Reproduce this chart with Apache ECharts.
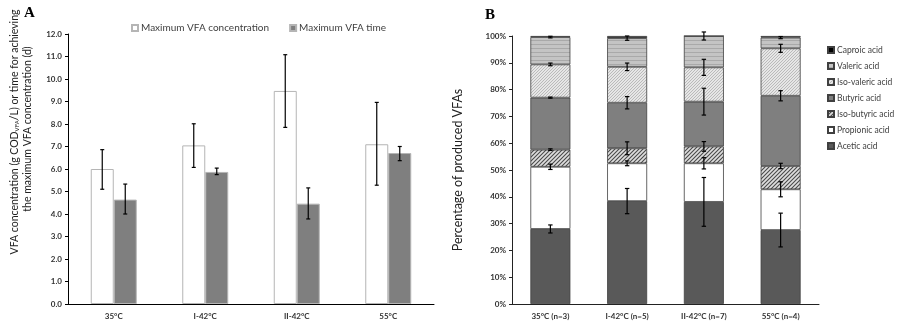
<!DOCTYPE html>
<html lang="en" style="height: 100%">
<head>
  <meta charset="utf-8">
</head>
<body style="height: 100%; margin: 0; background: #fff">
  <div id="container" style="width: 899px; height: 321px"></div>
  <script type="text/javascript" src="https://fastly.jsdelivr.net/npm/echarts@6.0.0/dist/echarts.min.js"></script>
  <script type="text/javascript">
    // ---- panel A data ----
    var tempsA = ['35°C', 'I-42°C', 'II-42°C', '55°C'];
    var concMax = [6.0, 7.05, 9.47, 7.1];
    var concLow = [5.1, 6.07, 7.85, 5.28];
    var concHigh = [6.86, 8.01, 11.08, 8.96];
    var timeMax = [4.64, 5.87, 4.46, 6.71];
    var timeLow = [4.0, 5.75, 3.78, 6.37];
    var timeHigh = [5.33, 6.04, 5.16, 7.0];
    var ticksA = [0, 12, 1];

    // ---- panel B data (% of produced VFAs) ----
    var tempsB = ['35°C (n=3)', 'I-42°C (n=5)', 'II-42°C (n=7)', '55°C (n=4)'];
    var acetic = [28.0, 38.4, 38.1, 27.6];
    var propionic = [23.2, 14.1, 14.4, 15.2];
    var isoButyric = [6.4, 5.6, 6.3, 8.7];
    var butyric = [19.4, 17.0, 16.7, 26.2];
    var isoValeric = [12.4, 13.4, 12.8, 17.7];
    var valeric = [10.2, 10.7, 11.7, 4.0];
    var caproic = [0.4, 0.8, 0.0, 0.6];
    // half error bars
    var aceticErr = [1.5, 4.7, 9.1, 6.3];
    var propionicErr = [1.0, 0.9, 2.1, 2.8];
    var isoButyricErr = [0.3, 2.4, 1.8, 1.0];
    var butyricErr = [0.2, 2.3, 5.0, 1.9];
    var isoValericErr = [0.5, 1.4, 3.0, 1.5];
    var valericErr = [0.3, 0.8, 1.5, 0.4];

    var FONT = 'Lato';

    // hatch patterns, like the excel fills
    function makePattern(size, bg, draw) {
      var c = document.createElement('canvas');
      c.width = size; c.height = size;
      var ctx = c.getContext('2d');
      ctx.fillStyle = bg;
      ctx.fillRect(0, 0, size, size);
      draw(ctx, size);
      return { image: c, repeat: 'repeat' };
    }
    function diag(color, w) {
      return function (ctx, s) {
        ctx.strokeStyle = color;
        ctx.lineWidth = w;
        ctx.beginPath();
        ctx.moveTo(-1, s + 1); ctx.lineTo(s + 1, -1);
        ctx.moveTo(-1, 1); ctx.lineTo(1, -1);
        ctx.moveTo(s - 1, s + 1); ctx.lineTo(s + 1, s - 1);
        ctx.stroke();
      };
    }
    var isoButyricFill = makePattern(4, '#dedede', diag('#4a4a4a', 1.1));
    var isoValericFill = makePattern(3, '#e6e6e6', diag('#b4b4b4', 0.9));
    var valericFill = makePattern(4, '#c4c4c4', function (ctx, s) {
      ctx.fillStyle = '#a9a9a9';
      ctx.fillRect(0, 0, s, 1);
    });

    function errRender(offset, cap) {
      return function (params, api) {
        var x = api.value(0);
        var lo = api.coord([x, api.value(1)]);
        var hi = api.coord([x, api.value(2)]);
        var cx = lo[0] + offset;
        var st = { stroke: '#000', lineWidth: 1.2 };
        return {
          type: 'group',
          children: [
            { type: 'line', shape: { x1: cx, y1: lo[1], x2: cx, y2: hi[1] }, style: st },
            { type: 'line', shape: { x1: cx - cap, y1: lo[1], x2: cx + cap, y2: lo[1] }, style: st },
            { type: 'line', shape: { x1: cx - cap, y1: hi[1], x2: cx + cap, y2: hi[1] }, style: st }
          ]
        };
      };
    }
    function rangeData(lo, hi) {
      return lo.map(function (v, i) { return [i, v, hi[i]]; });
    }

    // stacked series for B, bottom to top
    var stackB = [
      { name: 'Acetic acid', data: acetic, err: aceticErr, color: '#595959' },
      { name: 'Propionic acid', data: propionic, err: propionicErr, color: '#ffffff' },
      { name: 'Iso-butyric acid', data: isoButyric, err: isoButyricErr, color: isoButyricFill },
      { name: 'Butyric acid', data: butyric, err: butyricErr, color: '#7f7f7f' },
      { name: 'Iso-valeric acid', data: isoValeric, err: isoValericErr, color: isoValericFill },
      { name: 'Valeric acid', data: valeric, err: valericErr, color: valericFill },
      { name: 'Caproic acid', data: caproic, err: null, color: '#000000' }
    ];

    var seriesB = [];
    var cum = [0, 0, 0, 0];
    stackB.forEach(function (s) {
      seriesB.push({
        name: s.name,
        type: 'bar',
        stack: 'vfa',
        xAxisIndex: 1,
        yAxisIndex: 1,
        barWidth: 40,
        itemStyle: { color: s.color, borderColor: '#404040', borderWidth: 0.8 },
        data: s.data
      });
      cum = cum.map(function (c, i) { return c + s.data[i]; });
      if (s.err) {
        var lo = cum.map(function (c, i) { return c - s.err[i]; });
        var hi = cum.map(function (c, i) { return c + s.err[i]; });
        seriesB.push({
          name: s.name + ' err',
          type: 'custom',
          xAxisIndex: 1,
          yAxisIndex: 1,
          z: 5,
          renderItem: errRender(0, 2.2),
          encode: { x: 0, y: [1, 2] },
          data: rangeData(lo, hi)
        });
      }
    });

    var labelStyle = { fontFamily: FONT, fontSize: 8, fontWeight: 'bold', color: '#333' };

    var dom = document.getElementById('container');
    var myChart = echarts.init(dom, null, { renderer: 'canvas' });

    var option = {
      backgroundColor: '#fff',
      animation: false,
      textStyle: { fontFamily: FONT },
      grid: [
        { left: 68, top: 34, width: 366, height: 270, containLabel: false, outerBoundsMode: 'none' },
        { left: 512, top: 36, width: 307, height: 268, containLabel: false, outerBoundsMode: 'none' }
      ],
      legend: [
        {
          data: ['Maximum VFA concentration', 'Maximum VFA time'],
          left: 126, top: 18, orient: 'horizontal',
          icon: 'rect', itemWidth: 6, itemHeight: 6, itemGap: 20,
          textStyle: { fontFamily: FONT, fontSize: 10, color: '#404040', padding: [0, 0, 0, -2] }
        },
        {
          data: ['Caproic acid', 'Valeric acid', 'Iso-valeric acid', 'Butyric acid', 'Iso-butyric acid', 'Propionic acid', 'Acetic acid'],
          left: 822, top: 40, orient: 'vertical',
          icon: 'rect', itemWidth: 6, itemHeight: 6, itemGap: 6,
          textStyle: { fontFamily: FONT, fontSize: 8.5, color: '#404040', lineHeight: 10, padding: [0, 0, 0, -2] }
        }
      ],
      xAxis: [
        {
          type: 'category', gridIndex: 0, data: tempsA,
          axisLine: { lineStyle: { color: '#000', width: 1 } },
          axisTick: { length: 4, lineStyle: { color: '#000' } },
          axisLabel: Object.assign({ margin: 8 }, labelStyle),
          splitLine: { show: false }
        },
        {
          type: 'category', gridIndex: 1, data: tempsB,
          axisLine: { lineStyle: { color: '#222', width: 1 } },
          axisTick: { length: 4, lineStyle: { color: '#222' } },
          axisLabel: Object.assign({ margin: 8 }, labelStyle),
          splitLine: { show: false }
        }
      ],
      yAxis: [
        {
          type: 'value', gridIndex: 0,
          min: ticksA[0], max: ticksA[1], interval: ticksA[2],
          axisLine: { show: true, lineStyle: { color: '#000', width: 1 } },
          axisTick: { show: true, length: 3, lineStyle: { color: '#000' } },
          axisLabel: Object.assign({ margin: 6, formatter: function (v) { return v.toFixed(1); } }, labelStyle),
          splitLine: { show: false }
        },
        {
          type: 'value', gridIndex: 1,
          min: 0, max: 100, interval: 10,
          axisLine: { show: true, lineStyle: { color: '#222', width: 1 } },
          axisTick: { show: true, length: 3, lineStyle: { color: '#222' } },
          axisLabel: Object.assign({ margin: 6, formatter: '{value}%' }, labelStyle),
          name: 'Percentage of produced VFAs',
          nameLocation: 'middle',
          nameGap: 48,
          nameTextStyle: { fontFamily: FONT, fontSize: 12.5, color: '#222' },
          splitLine: { show: false }
        }
      ],
      graphic: [
        { type: 'text', left: 24, top: 6, style: { text: 'A', font: 'bold 15px "Liberation Serif"', fill: '#000' } },
        { type: 'text', left: 485, top: 8, style: { text: 'B', font: 'bold 15px "Liberation Serif"', fill: '#000' } },
        {
          type: 'text', x: 15, y: 132, rotation: Math.PI / 2,
          style: {
            text: 'VFA concentration (g COD{s|VFA}/L) or time for achieving',
            align: 'center', verticalAlign: 'middle',
            fontFamily: FONT, fontSize: 10.5, fill: '#222',
            rich: { s: { fontSize: 6, fontFamily: FONT, fill: '#222', verticalAlign: 'bottom', padding: [4, 0, 0, 0] } }
          }
        },
        {
          type: 'text', x: 27.5, y: 129, rotation: Math.PI / 2,
          style: {
            text: 'the maximum VFA concentration (d)',
            align: 'center', verticalAlign: 'middle',
            fontFamily: FONT, fontSize: 10.5, fill: '#222'
          }
        }
      ],
      series: [
        {
          name: 'Maximum VFA concentration', type: 'bar',
          xAxisIndex: 0, yAxisIndex: 0,
          barWidth: 23, barGap: '0%',
          itemStyle: { color: '#ffffff', borderColor: '#b5b5b5', borderWidth: 1 },
          data: concMax
        },
        {
          name: 'Maximum VFA time', type: 'bar',
          xAxisIndex: 0, yAxisIndex: 0,
          barWidth: 23, barGap: '0%',
          itemStyle: { color: '#7f7f7f', borderColor: '#b5b5b5', borderWidth: 1 },
          data: timeMax
        },
        {
          name: 'conc err', type: 'custom', xAxisIndex: 0, yAxisIndex: 0, z: 5,
          renderItem: errRender(-11.5, 2), encode: { x: 0, y: [1, 2] },
          data: rangeData(concLow, concHigh)
        },
        {
          name: 'time err', type: 'custom', xAxisIndex: 0, yAxisIndex: 0, z: 5,
          renderItem: errRender(11.5, 2), encode: { x: 0, y: [1, 2] },
          data: rangeData(timeLow, timeHigh)
        }
      ].concat(seriesB)
    };

    myChart.setOption(option);
    window.addEventListener('resize', myChart.resize);
  </script>
</body>
</html>
